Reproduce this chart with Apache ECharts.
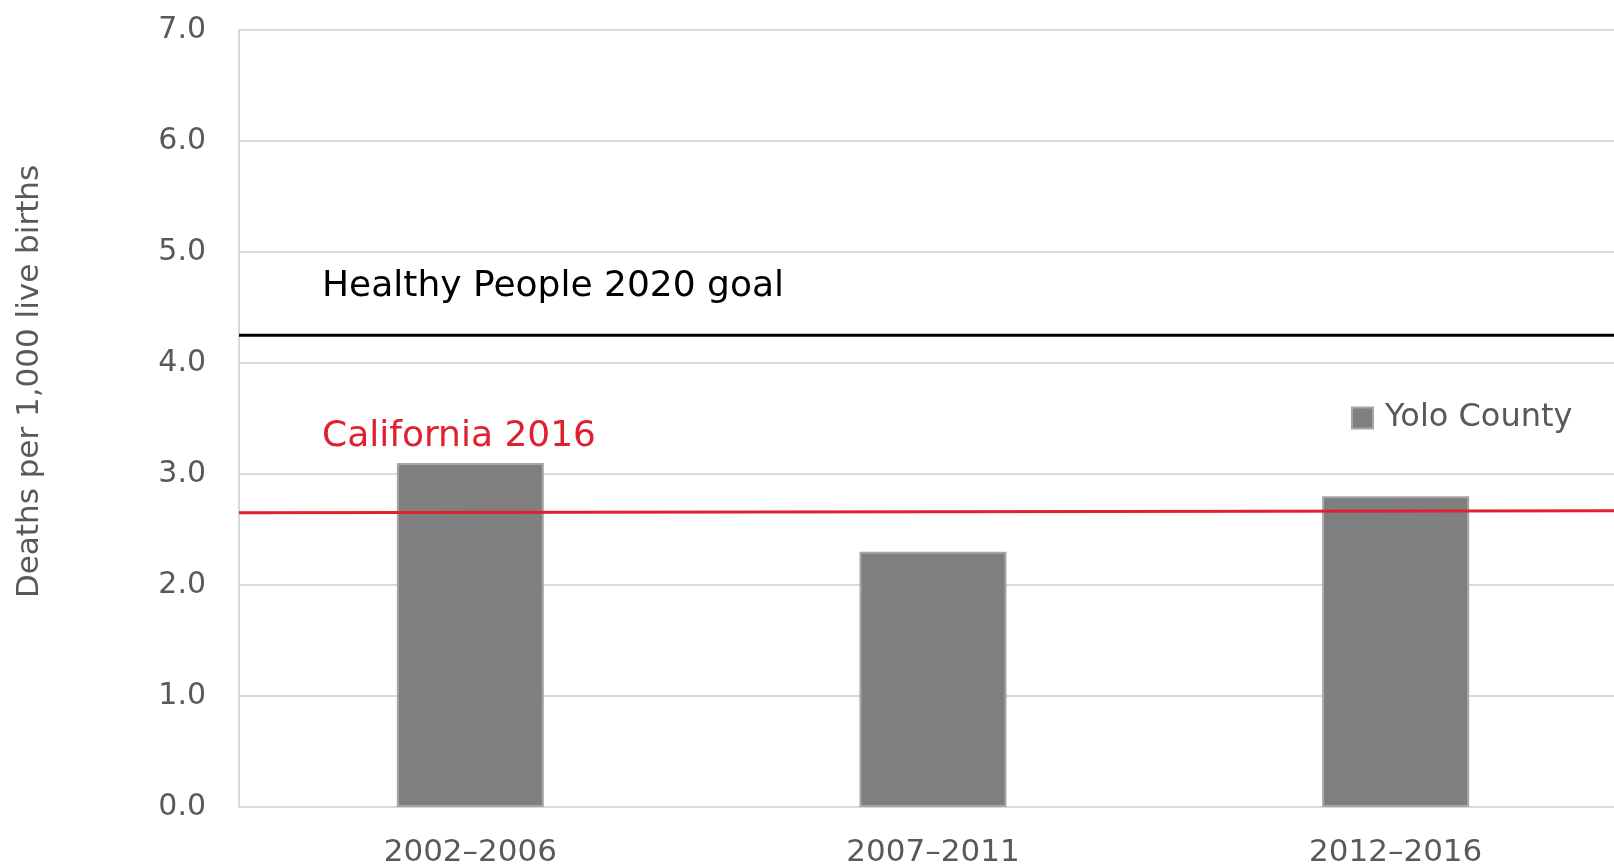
<!DOCTYPE html>
<html>
<head>
<meta charset="utf-8">
<title>Infant mortality - Yolo County</title>
<script src="https://cdn.jsdelivr.net/npm/echarts@6/dist/echarts.min.js"></script>
<style>
    html, body { margin: 0; padding: 0; background: #fff; }
    #chart { width: 1614px; height: 868px; }
</style>
</head>
<body>
<div id="chart"></div>
<script>
// data
var periods = ['2002\u20132006', '2007\u20132011', '2012\u20132016'];
var yoloCounty = [3.1, 2.3, 2.8];
var yTicks = [0, 1, 2, 3, 4, 5, 6, 7];
// reference lines: [start, end] value across the plot
var healthyPeopleGoal = [4.25, 4.25];
var california2016 = [2.65, 2.67];

var grey = '#595959';
var font = 'DejaVu Sans';

function refLine(name, vals, color, width, dy) {
    return {
        name: name,
        type: 'line',
        xAxisIndex: 1,
        symbol: 'circle',
        symbolSize: 0,
        showSymbol: true,
        silent: true,
        lineStyle: { color: color, width: width },
        itemStyle: { color: color },
        data: [
            {
                value: [0, vals[0]],
                label: {
                    show: true,
                    position: 'right',
                    offset: [78, dy],
                    formatter: name,
                    color: color,
                    fontFamily: font,
                    fontSize: 36
                }
            },
            [1, vals[1]]
        ],
        z: 5
    };
}

var chartDom = document.getElementById('chart');
var myChart = echarts.init(chartDom);
var option = {
    animation: false,
    backgroundColor: '#fff',
    grid: {
        left: 239,
        width: 1388,
        top: 30,
        bottom: 61,
        containLabel: false,
        outerBoundsMode: 'none'
    },
    legend: {
        data: ['Yolo County'],
        left: 1346,
        top: 397,
        icon: 'rect',
        itemWidth: 21,
        itemHeight: 21,
        textStyle: { color: grey, fontFamily: font, fontSize: 32, padding: [0, 0, 0, 7] }
    },
    xAxis: [
        {
            type: 'category',
            data: periods,
            axisLine: { lineStyle: { color: '#d9d9d9', width: 2 } },
            axisTick: { show: false },
            axisLabel: { color: grey, fontFamily: font, fontSize: 31, margin: 30 }
        },
        {
            type: 'value',
            min: 0,
            max: 1,
            show: false
        }
    ],
    yAxis: {
        type: 'value',
        min: yTicks[0],
        max: yTicks[yTicks.length - 1],
        interval: 1,
        name: 'Deaths per 1,000 live births',
        nameLocation: 'middle',
        nameGap: 194,
        nameTextStyle: { color: grey, fontFamily: font, fontSize: 31, padding: [0, 0, 0, 74] },
        axisLine: { show: true, lineStyle: { color: '#d9d9d9', width: 2 } },
        axisTick: { show: false },
        axisLabel: {
            color: grey,
            fontFamily: font,
            fontSize: 30,
            margin: 33,
            formatter: function (v) { return v.toFixed(1); }
        },
        splitLine: { lineStyle: { color: '#d9d9d9', width: 2 } }
    },
    series: [
        {
            name: 'Yolo County',
            type: 'bar',
            data: yoloCounty,
            barWidth: 147,
            itemStyle: { color: '#7f7f7f', borderColor: '#a6a6a6', borderWidth: 2 },
            z: 3
        },
        refLine('Healthy People 2020 goal', healthyPeopleGoal, '#000000', 3, -49),
        refLine('California 2016', california2016, '#e0202f', 3, -76)
    ]
};
option && myChart.setOption(option);
</script>
</body>
</html>
